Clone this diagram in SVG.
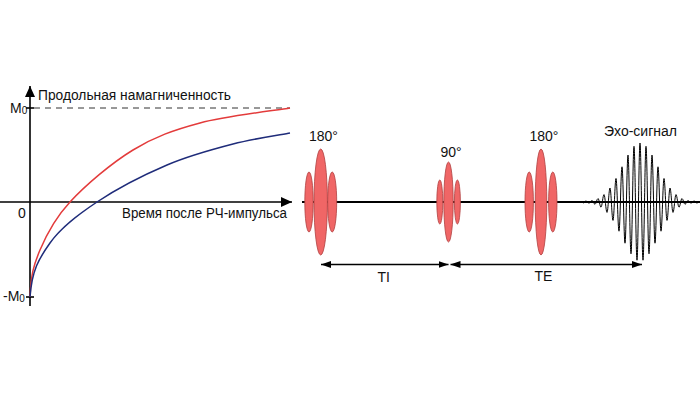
<svg xmlns="http://www.w3.org/2000/svg" width="700" height="394" viewBox="0 0 700 394">
<style>
.ax{stroke:#000;stroke-width:1.6;fill:none}
.lbl{font-family:"Liberation Sans",Arial,sans-serif;font-size:14px;fill:#111}
.sub{font-size:10px}
.lobe{fill:#f06666;stroke:#b04040;stroke-width:0.8}
.conn{stroke:#000;stroke-width:1.5;fill:none}
</style>
<defs>
<marker id="ah" viewBox="0 0 10 7" refX="10" refY="3.5" markerWidth="10" markerHeight="7" markerUnits="userSpaceOnUse" orient="auto-start-reverse"><path d="M0,0 L10,3.5 L0,7 z" fill="#000"/></marker>
<marker id="axh" viewBox="0 0 11 10" refX="11" refY="5" markerWidth="11" markerHeight="10" markerUnits="userSpaceOnUse" orient="auto"><path d="M0,0 L11,5 L0,10 z" fill="#000"/></marker>
</defs>
<rect width="700" height="394" fill="#fff"/>

<g id="graph">
<line x1="34" y1="108" x2="290" y2="108" stroke="#333" stroke-width="1" stroke-dasharray="6 5"/>
<line class="ax" x1="0" y1="202" x2="292" y2="202" marker-end="url(#axh)"/>
<line class="ax" x1="30" y1="306" x2="30" y2="86" marker-end="url(#axh)"/>
<line class="ax" x1="26" y1="108" x2="34" y2="108"/>
<line class="ax" x1="26" y1="297" x2="34" y2="297"/>
<path d="M30,297 C31,275 33.3,265.8 40,250 C46.7,234.2 54.5,218.7 70,202 C85.5,185.3 111.3,163.2 133,150 C154.7,136.8 173.8,130 200,123 C226.2,116 275,110.5 290,108" fill="none" stroke="#e33b3b" stroke-width="1.5"/>
<path d="M30,297 C32,270 38.8,258.8 50,243 C61.2,227.2 77.5,215 97,202 C116.5,189 144.3,174.7 167,165 C189.7,155.3 212.5,149.3 233,144 C253.5,138.7 280.5,134.8 290,133" fill="none" stroke="#1f2c7a" stroke-width="1.5"/>
<text class="lbl" x="10" y="113">M<tspan class="sub" dy="1">0</tspan></text>
<text class="lbl" x="18" y="218">0</text>
<text class="lbl" x="3" y="301">-M<tspan class="sub" dy="1">0</tspan></text>
<text class="lbl" x="38" y="100" textLength="193" lengthAdjust="spacingAndGlyphs">Продольная намагниченность</text>
<text class="lbl" x="122" y="218" textLength="165" lengthAdjust="spacingAndGlyphs">Время после РЧ-импульса</text>
</g>

<g id="baseline">
<line x1="302" y1="202" x2="700" y2="202" stroke="#000" stroke-width="2"/>
</g>

<g id="pulse180a">
<ellipse class="lobe" cx="309" cy="202" rx="4.2" ry="30"/>
<ellipse class="lobe" cx="332.2" cy="202" rx="4.5" ry="30"/>
<ellipse class="lobe" cx="320.7" cy="202" rx="6.7" ry="53"/>
<text class="lbl" x="309" y="141">180°</text>
</g>

<g id="pulse90">
<ellipse class="lobe" cx="439.8" cy="202" rx="3" ry="22"/>
<ellipse class="lobe" cx="457.4" cy="202" rx="3" ry="22"/>
<ellipse class="lobe" cx="448.5" cy="202" rx="4.7" ry="40"/>
<text class="lbl" x="440.5" y="157">90°</text>
</g>

<g id="pulse180b">
<ellipse class="lobe" cx="529.2" cy="202" rx="4.2" ry="30"/>
<ellipse class="lobe" cx="552.8" cy="202" rx="4.2" ry="30"/>
<ellipse class="lobe" cx="541" cy="202" rx="5.8" ry="53"/>
<text class="lbl" x="529.5" y="141">180°</text>
</g>

<g id="echo">
<path fill="none" stroke="#000" stroke-width="1" d="M583,203 C584.1,203 584.9,201 586,201 S587.9,203.2 589,203.2 S590.9,200.5 592,200.5 S593.9,204.3 595,204.3 S596.9,198.5 598,198.5 S599.9,207.2 601,207.2 S602.9,194.6 604,194.6 S605.9,212.4 607,212.4 S608.9,188 610,188 S611.9,220.4 613,220.4 S614.9,178.5 616,178.5 S617.9,231.2 619,231.2 S620.9,166.8 622,166.8 S623.9,243.2 625,243.2 S626.9,155.1 628,155.1 S629.9,253.8 631,253.8 S632.9,146.3 634,146.3 S635.9,260.2 637,260.2 S638.9,143 640,143 S641.9,260.2 643,260.2 S644.9,146.3 646,146.3 S647.9,253.8 649,253.8 S650.9,155.1 652,155.1 S653.9,243.2 655,243.2 S656.9,166.8 658,166.8 S659.9,231.2 661,231.2 S662.9,178.5 664,178.5 S665.9,220.4 667,220.4 S668.9,188 670,188 S671.9,212.4 673,212.4 S674.9,194.6 676,194.6 S677.9,207.2 679,207.2 S680.9,198.5 682,198.5 S683.9,204.3 685,204.3 S686.9,200.5 688,200.5 S689.9,203.2 691,203.2 S692.9,201 694,201 S695.9,203 697,203 L699,202"/>
<text class="lbl" x="604" y="136">Эхо-сигнал</text>
</g>

<g id="connectors">
<line class="conn" x1="321" y1="264.5" x2="448.5" y2="264.5" marker-start="url(#ah)" marker-end="url(#ah)"/>
<line class="conn" x1="450.5" y1="264.5" x2="642" y2="264.5" marker-start="url(#ah)" marker-end="url(#ah)"/>
<text class="lbl" x="377.5" y="282">TI</text>
<text class="lbl" x="534.5" y="281">TE</text>
</g>
</svg>
